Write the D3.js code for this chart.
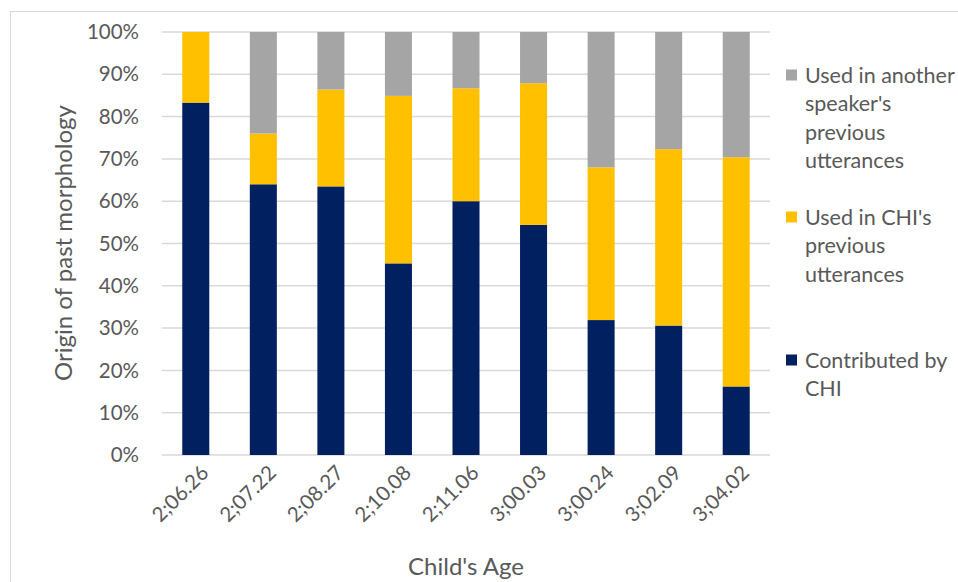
<!DOCTYPE html>
<html><head><meta charset="utf-8">
<script src="https://cdn.jsdelivr.net/npm/d3@7"></script>
<style>
html,body{margin:0;padding:0;background:#fff;}
text{font-family:Lato,"Open Sans",sans-serif;fill:#595959;}
</style></head>
<body><svg id="c" width="958" height="582"></svg>
<script>
const categories = ["2;06.26","2;07.22","2;08.27","2;10.08","2;11.06","3;00.03","3;00.24","3;02.09","3;04.02"];
const contributedByCHI = [83.3, 64.0, 63.5, 45.3, 60.0, 54.4, 31.9, 30.6, 16.2];
const usedInCHIPrev    = [16.7, 12.0, 22.9, 39.6, 26.7, 33.5, 36.1, 41.7, 54.2];
const usedInAnotherPrev= [0.0, 24.0, 13.6, 15.1, 13.3, 12.1, 32.0, 27.7, 29.6];
const yTicks = [0,10,20,30,40,50,60,70,80,90,100];
const seriesNames = ["Contributed by CHI","Used in CHI's previous utterances","Used in another speaker's previous utterances"];
const colors = ["#002060","#FFC000","#A5A5A5"];

const svg = d3.select("#c");
svg.append("rect").attr("x",10.5).attr("y",11.5).attr("width",1000).attr("height",700)
  .attr("fill","none").attr("stroke","#d9d9d9").attr("stroke-width",1);

const pL=162, pR=770, pT=32, pB=455;
const x = d3.scaleBand().domain(categories).range([pL,pR]).paddingInner(0.6).paddingOuter(0.3);
const y = d3.scaleLinear().domain([0,100]).range([pB,pT]);

svg.append("g").selectAll("line").data(yTicks).join("line")
  .attr("x1",pL).attr("x2",pR).attr("y1",d=>y(d)).attr("y2",d=>y(d))
  .attr("stroke","#d9d9d9").attr("stroke-width",1.5);

svg.append("g").selectAll("text").data(yTicks).join("text")
  .attr("x",139).attr("y",d=>y(d)).attr("dy","0.35em").attr("text-anchor","end")
  .style("font-size","20.5px").text(d=>d+"%");

const rows = categories.map((c,i)=>({cat:c, s0:contributedByCHI[i], s1:usedInCHIPrev[i], s2:usedInAnotherPrev[i]}));
const stack = d3.stack().keys(["s0","s1","s2"])(rows);
svg.append("g").selectAll("g").data(stack).join("g").attr("fill",(d,i)=>colors[i])
  .selectAll("rect").data(d=>d).join("rect")
  .attr("x",d=>x(d.data.cat)).attr("width",x.bandwidth())
  .attr("y",d=>y(d[1])).attr("height",d=>Math.max(0,y(d[0])-y(d[1])));

svg.append("g").selectAll("text").data(categories).join("text")
  .attr("transform",d=>`translate(${x(d)+x.bandwidth()/2+9},${469}) rotate(-45)`)
  .attr("text-anchor","end").attr("dy","0.35em").style("font-size","20.5px").text(d=>d);

svg.append("text").attr("x",466).attr("y",567).attr("dy","0.35em").attr("text-anchor","middle")
  .style("font-size","24px").text("Child's Age");
svg.append("text").attr("transform","translate(64,243) rotate(-90)").attr("dy","0.35em")
  .attr("text-anchor","middle").style("font-size","24px").text("Origin of past morphology");

const legendItems = [
  {c:colors[2], lines:["Used in another","speaker's","previous","utterances"], y:75},
  {c:colors[1], lines:["Used in CHI's","previous","utterances"], y:217},
  {c:colors[0], lines:["Contributed by","CHI"], y:360}
];
const lg = svg.append("g");
legendItems.forEach(it=>{
  lg.append("rect").attr("x",786).attr("y",it.y-5.5).attr("width",11).attr("height",11).attr("fill",it.c);
  it.lines.forEach((l,j)=>{
    lg.append("text").attr("x",805).attr("y",it.y+j*28.5).attr("dy","0.35em")
      .style("font-size","21.5px").text(l);
  });
});
</script></body></html>
